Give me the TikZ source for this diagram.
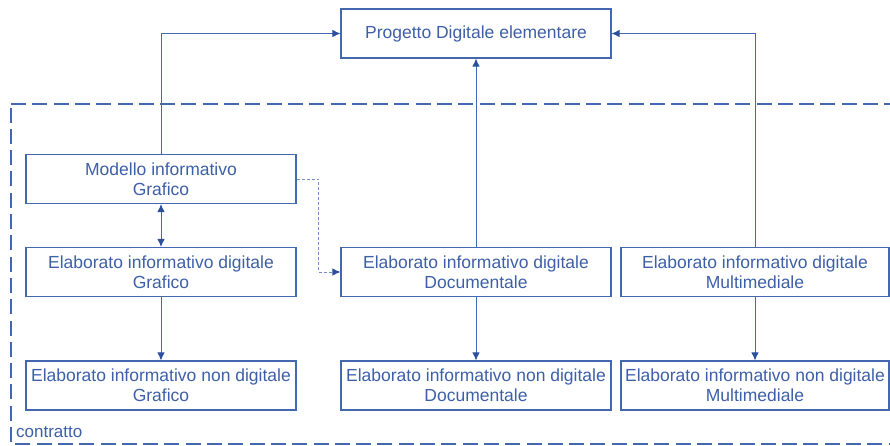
\documentclass[tikz,border=0pt]{standalone}
\usepackage{fontspec}
\setmainfont{Liberation Sans}
\usetikzlibrary{arrows.meta}
\definecolor{ibtext}{HTML}{3D5FA8}
\definecolor{ibline}{HTML}{4468B0}
\definecolor{ibarrow}{HTML}{2D509E}
\begin{document}
\begin{tikzpicture}[x=1pt,y=-1pt,
  box/.style={draw=ibline, line width=1.1pt, minimum width=270pt, minimum height=49pt,
    inner sep=0pt, align=center, text=ibtext,
    font=\fontsize{17.5pt}{20pt}\selectfont},
  conn/.style={draw=ibline, line width=0.9pt, -{Latex[length=8pt,width=7.5pt]}, arrows={[color=ibarrow]}},
  dotconn/.style={draw=ibline!75, line width=0.9pt, dash pattern=on 3pt off 2pt,
    -{Latex[length=8pt,width=7.5pt]}, arrows={[color=ibarrow]}},
  frame/.style={draw=ibline, line width=2.4pt, dash pattern=on 15pt off 6.3pt}
]
\useasboundingbox (0,0) rectangle (890,445);
\begin{scope}
\clip (0,0) rectangle (890,445);
\draw[frame] (11,104) -- (905,104) -- (905,444) -- (11,444) -- cycle;
\end{scope}

\node[box] (top)  at (476,33.5) {Progetto Digitale elementare};
\node[box] (mod)  at (161,179) {Modello informativo\\Grafico};
\node[box] (edg)  at (161,272) {Elaborato informativo digitale\\Grafico};
\node[box] (endg) at (161,385.5) {Elaborato informativo non digitale\\Grafico};
\node[box] (edd)  at (476,272) {Elaborato informativo digitale\\Documentale};
\node[box] (endd) at (476,385.5) {Elaborato informativo non digitale\\Documentale};
\node[box, minimum width=268pt] (edm)  at (755,272) {Elaborato informativo digitale\\Multimediale};
\node[box, minimum width=268pt] (endm) at (755,385.5) {Elaborato informativo non digitale\\Multimediale};

\node[anchor=west, inner sep=0pt, text=ibtext, font=\fontsize{17pt}{20pt}\selectfont] (ctr) at (16,432) {contratto};

\draw[conn] (mod.north) |- (top.west);
\draw[conn] (edd.north) -- (top.south);
\draw[conn] (edm.north) |- (top.east);
\draw[conn, {Latex[length=8pt,width=7.5pt]}-{Latex[length=8pt,width=7.5pt]}] (mod.south) -- (edg.north);
\draw[conn] (edg.south) -- (endg.north);
\draw[conn] (edd.south) -- (endd.north);
\draw[conn] (edm.south) -- (endm.north);
\coordinate (dk) at (318.5,179);
\draw[dotconn] (mod.east) -- (dk) |- (edd.west);
\end{tikzpicture}
\end{document}
